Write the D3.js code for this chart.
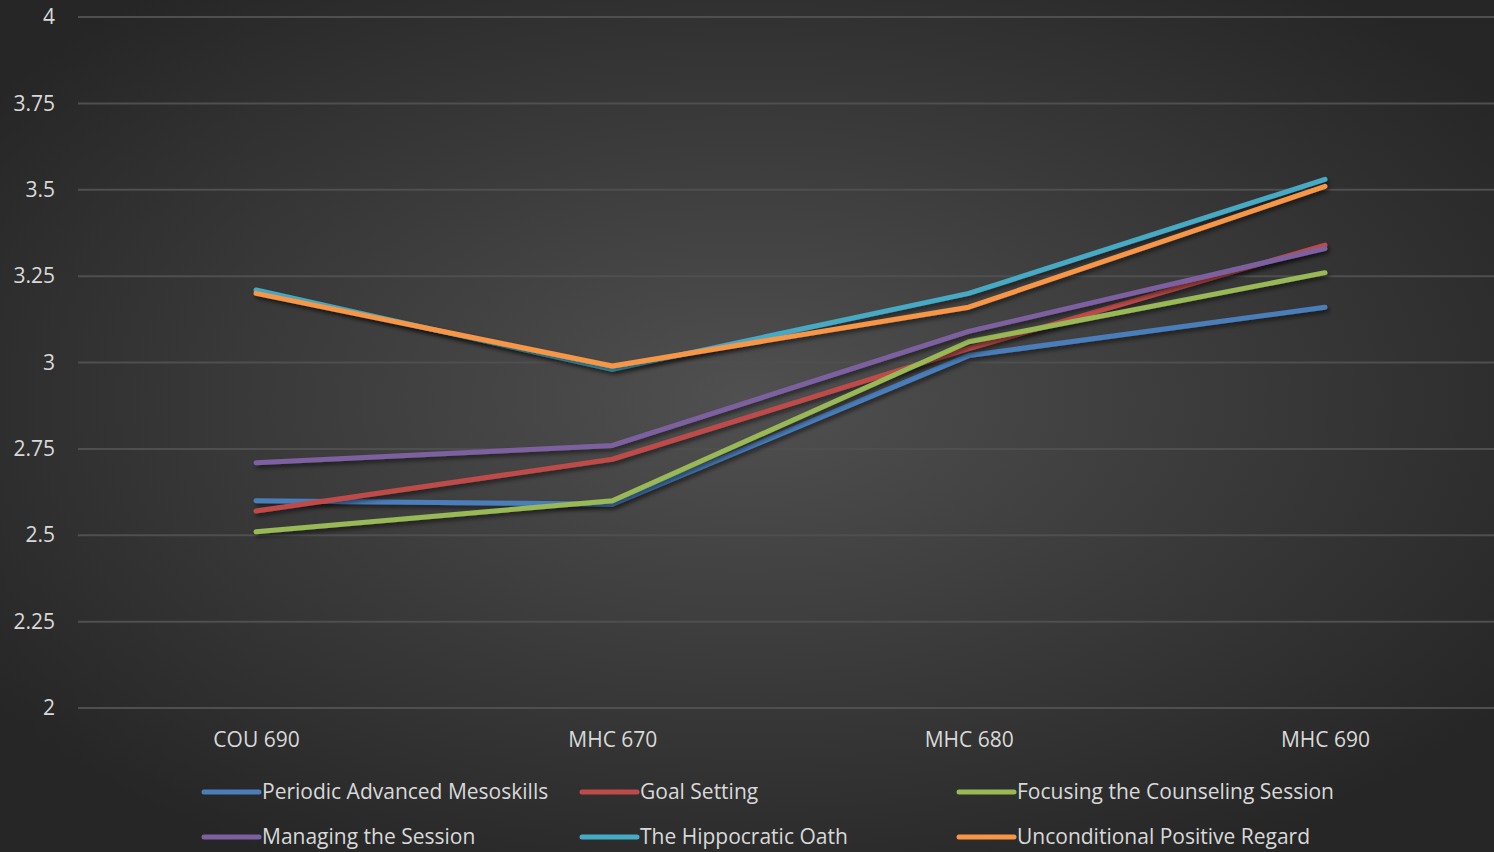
<!DOCTYPE html>
<html>
<head>
<meta charset="utf-8">
<script src="https://cdn.jsdelivr.net/npm/d3@7"></script>
<style>
  html, body { margin: 0; padding: 0; background: #2a2a2a; }
  svg { display: block; }
  text { font-family: "Open Sans", "Noto Sans", sans-serif; fill: #d9d9d9; }
</style>
</head>
<body>
<div id="chart"></div>
<script>
var width = 1494,
    height = 852;

var categories = ["COU 690", "MHC 670", "MHC 680", "MHC 690"];
var seriesNames = ["Periodic Advanced Mesoskills", "Goal Setting", "Focusing the Counseling Session",
                   "Managing the Session", "The Hippocratic Oath", "Unconditional Positive Regard"];
var periodic = [2.60, 2.59, 3.02, 3.16];
var goalSetting = [2.57, 2.72, 3.04, 3.34];
var focusing = [2.51, 2.60, 3.06, 3.26];
var managing = [2.71, 2.76, 3.09, 3.33];
var hippocratic = [3.21, 2.98, 3.20, 3.53];
var unconditional = [3.20, 2.99, 3.16, 3.51];
var yTicks = [2, 2.25, 2.5, 2.75, 3, 3.25, 3.5, 3.75, 4];
var colors = ["#4a7ebb", "#be4b48", "#98b954", "#7d60a0", "#46aac5", "#f79646"];

var series = [periodic, goalSetting, focusing, managing, hippocratic, unconditional];

var svg = d3.select("#chart").append("svg")
    .attr("width", width)
    .attr("height", height);

var defs = svg.append("defs");
var grad = defs.append("radialGradient")
    .attr("id", "bg")
    .attr("cx", "50%").attr("cy", "47%").attr("r", "62%");
grad.append("stop").attr("offset", "0%").attr("stop-color", "#505050");
grad.append("stop").attr("offset", "100%").attr("stop-color", "#262626");

var shadow = defs.append("filter").attr("id", "shadow")
    .attr("x", "-5%").attr("y", "-20%").attr("width", "110%").attr("height", "140%");
shadow.append("feDropShadow")
    .attr("dx", 2).attr("dy", 3).attr("stdDeviation", 2)
    .attr("flood-color", "#000").attr("flood-opacity", 0.5);

svg.append("rect")
    .attr("width", width)
    .attr("height", height)
    .attr("fill", "url(#bg)");

var x = d3.scalePoint()
    .domain(categories)
    .range([256, 1325]);

var y = d3.scaleLinear()
    .domain([2, 4])
    .range([708, 17]);

// gridlines
svg.append("g").selectAll("line")
    .data(yTicks)
  .enter().append("line")
    .attr("x1", 78)
    .attr("x2", width)
    .attr("y1", function(d) { return y(d); })
    .attr("y2", function(d) { return y(d); })
    .attr("stroke", "#4f4f4f")
    .attr("stroke-width", 2);

// y axis labels
var yAxis = d3.axisLeft(y)
    .tickValues(yTicks)
    .tickSize(0)
    .tickPadding(0)
    .tickFormat(function(d) { return String(d); });

var gy = svg.append("g")
    .attr("transform", "translate(55,0)")
    .call(yAxis);
gy.select(".domain").remove();
gy.selectAll("text")
    .style("font-size", "21px")
    .attr("fill", "#d9d9d9");

// x axis labels
var xAxis = d3.axisBottom(x).tickSize(0).tickPadding(0);
var gx = svg.append("g")
    .attr("transform", "translate(0,732)")
    .call(xAxis);
gx.select(".domain").remove();
gx.selectAll("text")
    .style("font-size", "21px")
    .attr("fill", "#d9d9d9");

var line = d3.line()
    .x(function(d, i) { return x(categories[i]); })
    .y(function(d) { return y(d); });

svg.append("g").selectAll("path")
    .data(series)
  .enter().append("path")
    .attr("d", line)
    .attr("fill", "none")
    .attr("stroke", function(d, i) { return colors[i]; })
    .attr("stroke-width", 5)
    .attr("stroke-linecap", "round")
    .attr("stroke-linejoin", "round")
    .attr("filter", "url(#shadow)");

// legend
var legendX = [204, 582, 959],
    legendY = [792, 837];

var legend = svg.append("g").selectAll("g")
    .data(seriesNames)
  .enter().append("g")
    .attr("transform", function(d, i) {
      return "translate(" + legendX[i % 3] + "," + legendY[Math.floor(i / 3)] + ")";
    });

legend.append("line")
    .attr("x1", 0)
    .attr("x2", 55)
    .attr("stroke", function(d, i) { return colors[i]; })
    .attr("stroke-width", 5)
    .attr("stroke-linecap", "round");

legend.append("text")
    .attr("x", 58)
    .attr("dy", ".35em")
    .style("font-size", "21px")
    .text(function(d) { return d; });
</script>
</body>
</html>
